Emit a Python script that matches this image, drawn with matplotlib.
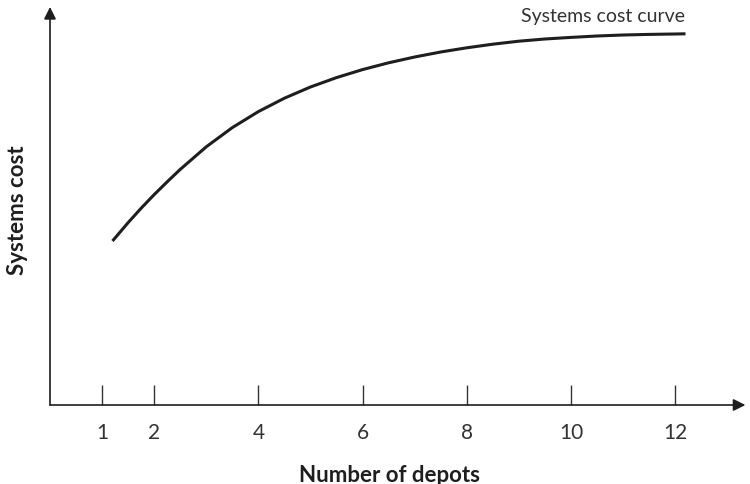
import matplotlib.pyplot as plt

plt.rcParams["font.family"] = ["Lato", "DejaVu Sans"]

# Systems cost against number of depots (arbitrary cost units)
depots = [1.2, 1.5, 1.75, 2, 2.25, 2.5, 3, 3.5, 4, 4.5, 5, 5.5, 6, 6.5, 7,
          7.5, 8, 8.5, 9, 9.5, 10, 10.5, 11, 11.5, 12, 12.2]
cost = [41, 45.6, 49.2, 52.6, 55.8, 58.9, 64.55, 69.35, 73.35, 76.7, 79.5,
        81.85, 83.85, 85.55, 87.0, 88.25, 89.3, 90.2, 90.95, 91.5, 91.9,
        92.25, 92.5, 92.65, 92.75, 92.8]
tick_pos = [1, 2, 4, 6, 8, 10, 12]
tick_labels = ["1", "2", "4", "6", "8", "10", "12"]

ink = "#1e1e1e"

fig = plt.figure(figsize=(7.5, 4.85), dpi=100)
ax = fig.add_axes([50 / 750, 79 / 485, 698 / 750, 400 / 485])
ax.set_xlim(0, 13.4)
ax.set_ylim(0, 100)
for s in ax.spines.values():
    s.set_visible(False)

# axes drawn as arrows
arrow = dict(arrowstyle="-|>", color=ink, lw=1.2, mutation_scale=18,
             shrinkA=0, shrinkB=0)
ax.annotate("", xy=(13.35, 0), xytext=(0, 0), arrowprops=arrow,
            annotation_clip=False)
ax.annotate("", xy=(0, 99.5), xytext=(0, 0), arrowprops=arrow,
            annotation_clip=False)

ax.plot(depots, cost, color=ink, lw=2.2, solid_capstyle="butt",
        solid_joinstyle="round")

ax.set_xticks(tick_pos)
ax.set_xticklabels(tick_labels, fontsize=15, color="#333333")
ax.tick_params(axis="x", direction="in", length=14.5, width=1,
               color="#333333", pad=12)
ax.set_yticks([])

ax.set_xlabel("Number of depots", fontsize=16, fontweight="bold",
              color=ink)
ax.xaxis.set_label_coords(0.486, -0.148)
ax.set_ylabel("Systems cost", fontsize=16, fontweight="bold", color=ink)
ax.yaxis.set_label_coords(-0.032, 0.489)

ax.text(12.2, 95.3, "Systems cost curve", fontsize=14, color="#333333",
        ha="right", va="bottom")

fig.savefig("out.png", dpi=100)
